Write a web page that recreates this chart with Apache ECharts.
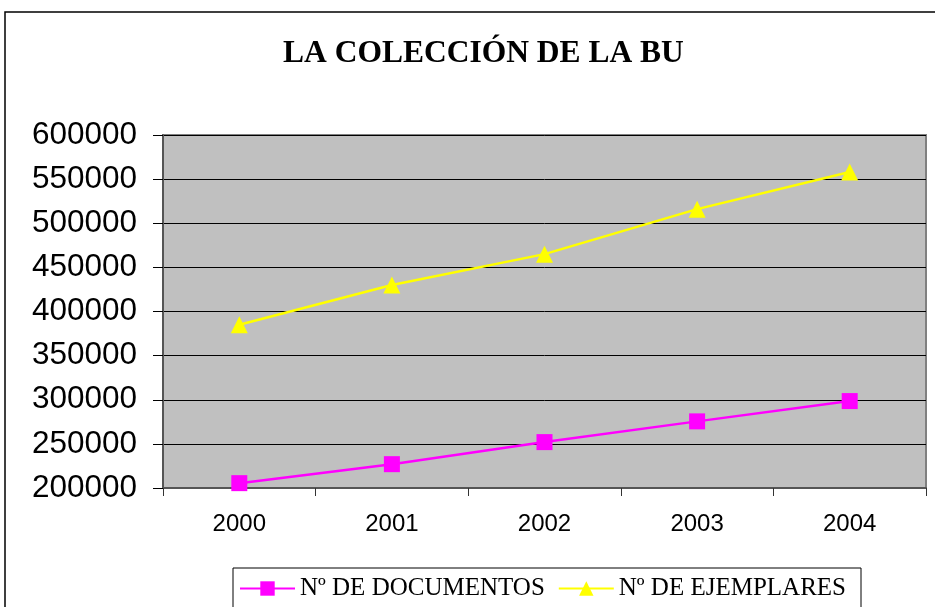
<!DOCTYPE html>
<html>
<head>
<meta charset="utf-8">
<script src="https://cdn.jsdelivr.net/npm/echarts@6/dist/echarts.min.js"></script>
<style>
  html, body { margin: 0; padding: 0; background: #fff; }
  #main { width: 935px; height: 607px; }
</style>
</head>
<body>
<div id="main"></div>
<script>
// datos
var years = ['2000', '2001', '2002', '2003', '2004'];
var documentos = [205500, 227000, 252000, 275500, 298500];
var ejemplares = [385000, 430000, 465000, 516000, 558000];

var myChart = echarts.init(document.getElementById('main'));

myChart.setOption({
    animation: false,
    backgroundColor: '#fff',
    title: {
        text: 'LA COLECCIÓN DE LA BU',
        left: 278,
        top: 33,
        textStyle: {
            fontFamily: 'Liberation Serif',
            fontWeight: 'bold',
            fontSize: 31.5,
            color: '#000'
        }
    },
    graphic: [{
        type: 'rect',
        shape: { x: 5, y: 12, width: 940, height: 610 },
        style: { fill: null, stroke: '#000', lineWidth: 1.5 },
        silent: true
    }],
    legend: {
        bottom: -14,
        left: 233,
        itemWidth: 55,
        itemHeight: 18,
        itemGap: 13,
        padding: [8, 15, 20, 6],
        borderColor: '#000',
        borderWidth: 1,
        textStyle: {
            fontFamily: 'Liberation Serif',
            fontSize: 25,
            color: '#000'
        },
        data: ['Nº DE DOCUMENTOS', 'Nº DE EJEMPLARES']
    },
    grid: {
        left: 163,
        right: 9,
        top: 135,
        bottom: 119,
        show: true,
        backgroundColor: '#c0c0c0',
        borderColor: '#808080',
        borderWidth: 2
    },
    xAxis: {
        type: 'category',
        data: years,
        boundaryGap: true,
        axisLine: { lineStyle: { color: '#555', width: 2 } },
        axisTick: { show: true, length: 8, lineStyle: { color: '#333' } },
        axisLabel: {
            margin: 24,
            fontFamily: 'Liberation Sans',
            fontSize: 24,
            color: '#000'
        }
    },
    yAxis: {
        type: 'value',
        min: 200000,
        max: 600000,
        interval: 50000,
        axisLine: { show: true, lineStyle: { color: '#555', width: 2 } },
        axisTick: { show: true, length: 10, lineStyle: { color: '#000' } },
        splitLine: { lineStyle: { color: '#000', width: 1 } },
        axisLabel: {
            margin: 26,
            fontFamily: 'Liberation Sans',
            fontSize: 31.5,
            color: '#000',
            formatter: function (v) { return String(v); }
        }
    },
    series: [{
        name: 'Nº DE DOCUMENTOS',
        type: 'line',
        data: documentos,
        symbol: 'rect',
        symbolSize: 16,
        itemStyle: { color: '#ff00ff' },
        lineStyle: { color: '#ff00ff', width: 2.5 }
    }, {
        name: 'Nº DE EJEMPLARES',
        type: 'line',
        data: ejemplares,
        symbol: 'triangle',
        symbolSize: 17,
        itemStyle: { color: '#ffff00' },
        lineStyle: { color: '#ffff00', width: 2.5 }
    }]
});
</script>
</body>
</html>
